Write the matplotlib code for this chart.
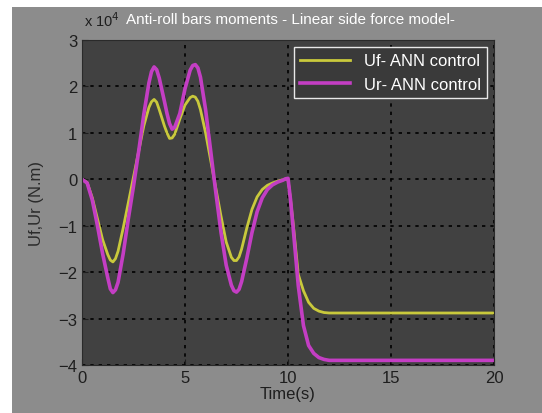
import numpy as np
import matplotlib
matplotlib.use("Agg")
import matplotlib.pyplot as plt
from matplotlib.patches import Rectangle

# values, in units of 1e4 N.m
time = [0, 0.25, 0.5, 0.75, 1.0, 1.25, 1.375, 1.5, 1.625, 1.75, 2.0, 2.25,
        2.5, 2.75, 3.0, 3.25, 3.375, 3.5, 3.625, 3.75, 4.0, 4.125, 4.25, 4.375,
        4.5, 4.75, 5.0, 5.25, 5.375, 5.5, 5.625, 5.75, 6.0, 6.25, 6.5, 6.75,
        7.0, 7.25, 7.375, 7.5, 7.625, 7.75, 8.0, 8.25, 8.5, 8.75, 9.0, 9.25,
        9.5, 9.75, 9.875, 10.0, 10.125, 10.25, 10.5, 10.75, 11.0, 11.25, 11.5,
        11.75, 12.0, 20.0]

uf = [0, -0.07, -0.4, -0.85, -1.3, -1.62, -1.74, -1.78, -1.71, -1.55, -1.05, -0.5,
      0.05, 0.6, 1.15, 1.55, 1.67, 1.72, 1.66, 1.5, 1.15, 1.0, 0.88, 0.89,
      0.97, 1.3, 1.6, 1.76, 1.79, 1.77, 1.68, 1.5, 1.0, 0.4, -0.2, -0.8,
      -1.35, -1.68, -1.75, -1.75, -1.67, -1.5, -1.05, -0.65, -0.38, -0.22, -0.13, -0.08,
      -0.04, -0.01, 0.0, 0.0, -0.45, -0.95, -2.05, -2.4, -2.65, -2.78, -2.84,
      -2.87, -2.88, -2.88]

ur = [0, -0.08, -0.45, -1.0, -1.6, -2.12, -2.36, -2.44, -2.38, -2.22, -1.6, -0.85,
      -0.15, 0.6, 1.4, 2.08, 2.32, 2.42, 2.36, 2.18, 1.68, 1.42, 1.2, 1.08,
      1.12, 1.42, 1.95, 2.35, 2.45, 2.47, 2.4, 2.2, 1.5, 0.6, -0.3, -1.15,
      -1.85, -2.28, -2.4, -2.43, -2.37, -2.2, -1.7, -1.15, -0.7, -0.4, -0.22, -0.12,
      -0.06, -0.02, 0.01, 0.02, -0.45, -1.05, -2.3, -3.15, -3.58, -3.75, -3.84,
      -3.88, -3.9, -3.9]

xticks = [0, 5, 10, 15, 20]
yticks = [-4, -3, -2, -1, 0, 1, 2, 3]

plt.rcParams['font.family'] = ['Liberation Sans', 'DejaVu Sans']

fig = plt.figure(figsize=(5.42, 4.14), dpi=100, facecolor='white')
fig.patches.append(Rectangle((12 / 542, 0), 1, 1 - 8 / 414, transform=fig.transFigure,
                             facecolor='#8c8c8c', edgecolor='none', zorder=-10))

ax = fig.add_axes([82 / 542, 1 - 366 / 414, (494 - 82) / 542, (366 - 41) / 414])
ax.set_facecolor('#414141')

ax.plot(time, uf, color='#c9c93c', linewidth=2.0, label='Uf- ANN control')
ax.plot(time, ur, color='#c43ec4', linewidth=2.6, label='Ur- ANN control')

ax.set_xlim(0, 20)
ax.set_ylim(-4, 3)
ax.set_xticks(xticks)
ax.set_yticks(yticks)
ax.grid(True, color='black', linestyle=(0, (2, 3)), linewidth=1.2)
ax.tick_params(direction='in', colors='#1e1e1e', labelsize=12, length=4)
for s in ax.spines.values():
    s.set_color('#2a2a2a')

ax.set_xlabel('Time(s)', fontsize=12, color='#1e1e1e', labelpad=1)
ax.set_ylabel('Uf,Ur (N.m)', fontsize=12, color='#2a2a2a', labelpad=10)
ax.set_title('Anti-roll bars moments - Linear side force model-', fontsize=11,
             color='white', pad=12, x=0.505)
ax.text(0.005, 1.035, r'x 10$^4$', transform=ax.transAxes, fontsize=10.5,
        color='#1e1e1e', ha='left', va='bottom')

leg = ax.legend(loc='upper right', fontsize=12, facecolor='#3a3a3a',
                edgecolor='#e8e8e8', framealpha=1, fancybox=False,
                handlelength=3.0, borderaxespad=0.4)
for t in leg.get_texts():
    t.set_color('white')

fig.savefig('out.png', dpi=100, facecolor=fig.get_facecolor())
